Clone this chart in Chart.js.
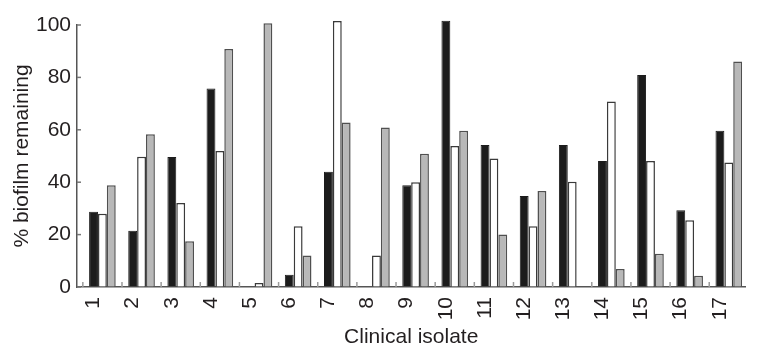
<!DOCTYPE html>
<html>
<head>
<meta charset="utf-8">
<script src="https://cdn.jsdelivr.net/npm/chart.js@4/dist/chart.umd.min.js"></script>
<style>
  html, body { margin: 0; padding: 0; background: #fff; }
  #wrap { width: 764px; height: 346px; position: relative; }
</style>
</head>
<body>
<div id="wrap"><canvas id="biofilmChart"></canvas></div>
<script>
// isolate labels and % biofilm remaining
const isolates = ['1', '2', '3', '4', '5', '6', '7', '8', '9', '10', '11', '12', '13', '14', '15', '16', '17'];
const blackBars = [28.7, 21.5, 49.6, 75.8, null, 4.7, 44, null, 38.8, 101.6, 54.2, 34.7, 54.2, 48.1, 80.9, 29.3, 59.6];
const whiteBars = [28, 49.7, 32.1, 51.9, 1.5, 23.2, 101.5, 12, 40, 53.8, 49, 23.2, 40.2, 70.8, 48.1, 25.5, 47.5];
const greyBars = [38.8, 58.3, 17.5, 90.8, 100.7, 12, 62.8, 60.9, 50.9, 59.6, 20, 36.6, null, 6.9, 12.7, 4.3, 86.1];
const yTicks = [0, 20, 40, 60, 80, 100];

const FONT = '"Liberation Sans", Arial, Helvetica, sans-serif';
const INK = '#231f20';

function toPoints(arr) {
  return arr.map((v, i) => ({ x: i, y: v }));
}

// small inward tick marks like the original figure
const innerTicks = {
  id: 'innerTicks',
  afterDatasetsDraw(chart) {
    const { ctx, chartArea, scales } = chart;
    ctx.save();
    ctx.lineWidth = 1.5;
    ctx.strokeStyle = '#9a9a9a';
    for (let k = 0; k <= isolates.length - 1; k++) {
      const px = scales.x.getPixelForValue(k - 0.5);
      ctx.beginPath();
      ctx.moveTo(px, chartArea.bottom);
      ctx.lineTo(px, chartArea.bottom - 5);
      ctx.stroke();
    }
    ctx.strokeStyle = '#777';
    yTicks.forEach(v => {
      const py = scales.y.getPixelForValue(v);
      ctx.beginPath();
      ctx.moveTo(chartArea.left, py);
      ctx.lineTo(chartArea.left + 4, py);
      ctx.stroke();
    });
    ctx.restore();
  }
};

new Chart(document.getElementById('biofilmChart'), {
  type: 'bar',
  data: {
    datasets: [
      { label: 'A', data: toPoints(blackBars), backgroundColor: '#1c1c1c', borderColor: '#1c1c1c', borderWidth: 1, clip: false },
      { label: 'B', data: toPoints(whiteBars), backgroundColor: '#ffffff', borderColor: '#3a3a3a', borderWidth: 1.5, clip: false },
      { label: 'C', data: toPoints(greyBars), backgroundColor: '#b8b8b8', borderColor: '#505050', borderWidth: 1.5, clip: false }
    ]
  },
  options: {
    responsive: true,
    maintainAspectRatio: false,
    animation: false,
    layout: { padding: { top: 25, right: 0, left: 0, bottom: 0 } },
    datasets: { bar: { categoryPercentage: 0.68, barPercentage: 1 } },
    plugins: { legend: { display: false }, tooltip: { enabled: false } },
    scales: {
      x: {
        type: 'linear',
        offset: false,
        min: -0.649,
        max: 16.425,
        afterBuildTicks: (scale) => { scale.ticks = isolates.map((_, i) => ({ value: i })); },
        afterFit: (scale) => { scale.height = 59; },
        ticks: {
          autoSkip: false,
          minRotation: 90,
          maxRotation: 90,
          padding: 10,
          labelOffset: -9,
          color: INK,
          font: { family: FONT, size: 21 },
          callback: (value) => isolates[value]
        },
        grid: { display: true, drawOnChartArea: false, drawTicks: false },
        border: { display: true, color: '#555', width: 1.5 },
        title: {
          display: true,
          text: 'Clinical isolate',
          color: INK,
          font: { family: FONT, size: 21, lineHeight: 1 },
          padding: { top: 0, bottom: -2 }
        }
      },
      y: {
        min: 0,
        max: 100,
        afterBuildTicks: (scale) => { scale.ticks = yTicks.map(v => ({ value: v })); },
        afterFit: (scale) => { scale.width = 77; },
        ticks: {
          padding: 6,
          color: INK,
          font: { family: FONT, size: 21 }
        },
        grid: { display: true, drawOnChartArea: false, drawTicks: false },
        border: { display: true, color: '#555', width: 1.5 },
        title: {
          display: true,
          text: '% biofilm remaining',
          color: INK,
          font: { family: FONT, size: 21, lineHeight: 1 },
          padding: { top: 12, bottom: 0 }
        }
      }
    }
  },
  plugins: [innerTicks]
});
</script>
</body>
</html>
